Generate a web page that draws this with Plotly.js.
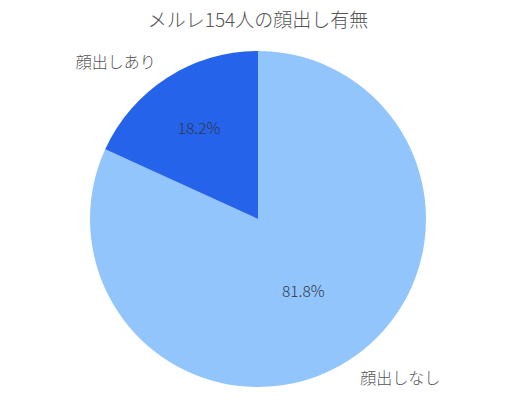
<!DOCTYPE html>
<html>
<head>
<meta charset="utf-8">
<script src="https://cdn.plot.ly/plotly-3.0.1.min.js"></script>
<style>
  html, body { margin: 0; padding: 0; background: #fff; }
  #chart { width: 515px; height: 414px; }
</style>
</head>
<body>
<div id="chart"></div>
<script>
// 154人のうち顔出しなし / あり (drawn clockwise from 12 o'clock)
var categories = ['顔出しなし', '顔出しあり'];
var counts = [126, 28];
var colors = ['#93C5FD', '#2563EB'];

var font = '"Noto Sans CJK JP", "Noto Sans", sans-serif';

// pie with percentages drawn inside
var pieTrace = {
  type: 'pie',
  labels: categories,
  values: counts,
  sort: false,
  direction: 'clockwise',
  rotation: 0,
  domain: { x: [0, 1], y: [0.0281, 0.9719] },
  marker: { colors: colors, line: { width: 0 } },
  textinfo: 'percent',
  textposition: 'inside',
  insidetextorientation: 'horizontal',
  texttemplate: '%{percent:.1%}',
  textfont: { family: font, size: 15.5, color: '#2f3848', weight: 300 },
  hoverinfo: 'label+value+percent',
  showlegend: false
};

// same pie again, a bit larger and transparent, just for the outside labels
var labelTrace = {
  type: 'pie',
  labels: categories,
  values: counts,
  sort: false,
  direction: 'clockwise',
  rotation: 0,
  domain: { x: [0, 1], y: [0, 1] },
  marker: { colors: ['rgba(0,0,0,0)', 'rgba(0,0,0,0)'], line: { width: 0 } },
  textinfo: 'label',
  textposition: 'outside',
  textfont: { family: font, size: 16, color: '#555555', weight: 300 },
  hoverinfo: 'skip',
  showlegend: false
};

var layout = {
  width: 515,
  height: 414,
  margin: { l: 70, r: 69, t: 41, b: 17 },
  paper_bgcolor: '#ffffff',
  title: {
    text: 'メルレ154人の顔出し有無',
    font: { family: font, size: 19, color: '#555555', weight: 300 },
    x: 0.5,
    xanchor: 'center',
    xref: 'paper',
    yref: 'container',
    y: 0.952,
    yanchor: 'middle'
  },
  showlegend: false
};

Plotly.newPlot('chart', [pieTrace, labelTrace], layout, { displayModeBar: false });
</script>
</body>
</html>
